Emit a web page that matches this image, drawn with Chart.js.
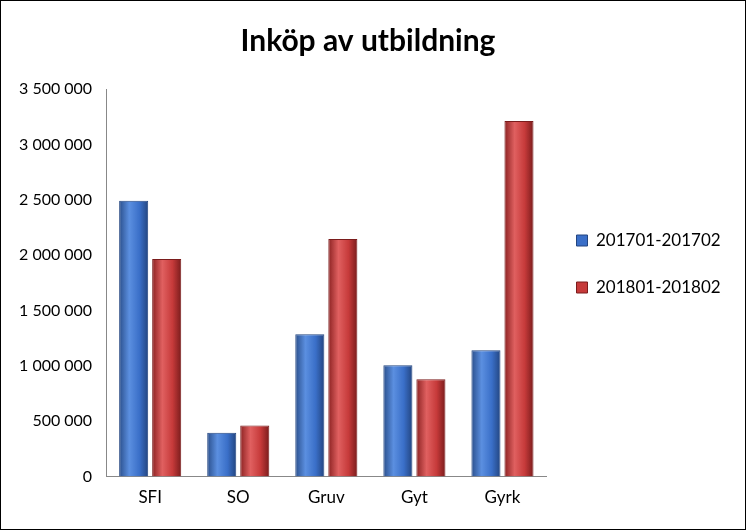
<!DOCTYPE html>
<html>
<head>
<meta charset="utf-8">
<script src="https://cdn.jsdelivr.net/npm/chart.js@4/dist/chart.umd.min.js"></script>
<style>
  html, body { margin: 0; padding: 0; background: #fff; }
  #wrap { width: 744px; height: 528px; border: 1px solid #000; position: relative; }
</style>
</head>
<body>
<div id="wrap"><canvas id="chart"></canvas></div>
<script>
const categories = ['SFI', 'SO', 'Gruv', 'Gyt', 'Gyrk'];
const series2017 = [2490000, 395000, 1285000, 1005000, 1140000];
const series2018 = [1965000, 462000, 2145000, 878000, 3210000];
const seriesNames = ['201701-201702', '201801-201802'];

const palettes = [
    ['#2a4f8c', '#5b8fe0', '#3a6fc8', '#234580'],
    ['#8c2222', '#e06060', '#c63a3a', '#7a1c1c']
];

// cylinder-like horizontal gradient on each bar
const shadePlugin = {
    id: 'shade',
    beforeDatasetsDraw(chart) {
        const ctx = chart.ctx;
        chart.data.datasets.forEach((ds, i) => {
            const p = palettes[i];
            chart.getDatasetMeta(i).data.forEach(bar => {
                const l = bar.x - bar.width / 2, r = bar.x + bar.width / 2;
                const g = ctx.createLinearGradient(l, 0, r, 0);
                g.addColorStop(0, p[0]);
                g.addColorStop(0.35, p[1]);
                g.addColorStop(0.7, p[2]);
                g.addColorStop(1, p[3]);
                bar.options = Object.assign({}, bar.options, { backgroundColor: g });
            });
        });
    }
};

new Chart(document.getElementById('chart'), {
    type: 'bar',
    data: {
        labels: categories,
        datasets: [
            { label: seriesNames[0], data: series2017, backgroundColor: '#3a6fc8', borderColor: '#234580', borderWidth: 1 },
            { label: seriesNames[1], data: series2018, backgroundColor: '#c63a3a', borderColor: '#7a1c1c', borderWidth: 1 }
        ]
    },
    options: {
        responsive: true,
        maintainAspectRatio: false,
        animation: false,
        layout: { padding: { left: 10, right: 20, top: 16, bottom: 18 } },
        datasets: { bar: { categoryPercentage: 0.75, barPercentage: 0.88 } },
        plugins: {
            title: {
                display: true,
                text: 'Inköp av utbildning',
                color: '#000',
                font: { family: 'Lato', size: 30, weight: 'bold' },
                padding: { top: 6, bottom: 30 }
            },
            legend: {
                position: 'right',
                labels: {
                    color: '#000',
                    font: { family: 'Lato', size: 17 },
                    boxWidth: 11,
                    boxHeight: 11,
                    padding: 30
                }
            },
            tooltip: { enabled: false }
        },
        scales: {
            y: {
                min: 0,
                max: 3500000,
                grid: { display: false, drawTicks: true, tickLength: 6 },
                border: { display: true, color: '#888' },
                ticks: {
                    stepSize: 500000,
                    padding: 8,
                    color: '#000',
                    font: { family: 'Lato', size: 16 },
                    callback: v => v.toLocaleString('sv-SE').replace(/\u00a0/g, ' ')
                }
            },
            x: {
                grid: { display: false },
                border: { display: true, color: '#888' },
                ticks: { color: '#000', font: { family: 'Lato', size: 17 } }
            }
        }
    },
    plugins: [shadePlugin]
});
</script>
</body>
</html>
